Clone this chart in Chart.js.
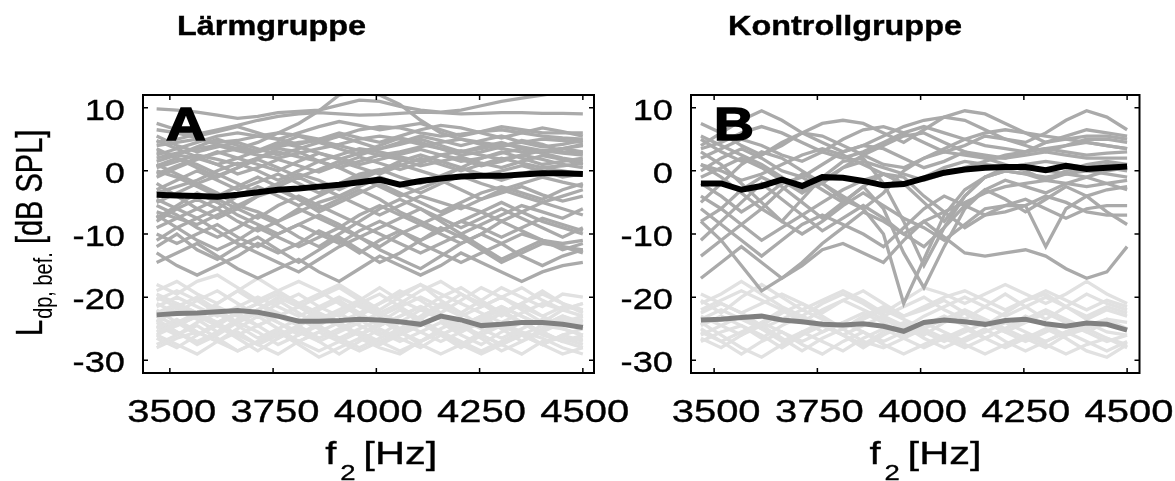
<!DOCTYPE html>
<html>
<head>
<meta charset="utf-8">
<script src="https://cdn.jsdelivr.net/npm/chart.js@4/dist/chart.umd.min.js"></script>
<style>
  body { margin: 0; background: #fff; width: 1175px; height: 481px; position: relative; overflow: hidden; }
  canvas { position: absolute; top: 0; }
  #cA { left: 0; }
  #cB { left: 600px; }
</style>
</head>
<body>
<canvas id="cA" width="640" height="481"></canvas>
<canvas id="cB" width="575" height="481"></canvas>
<script>
// f2 frequencies (Hz) shared by all curves
var freqs = [3468, 3517, 3566, 3615, 3664, 3713, 3762, 3812, 3861, 3910, 3959,
             4008, 4057, 4107, 4156, 4205, 4254, 4303, 4352, 4402, 4451, 4500];
var tickX = [3500, 3750, 4000, 4250, 4500];
var tickY = [-30, -20, -10, 0, 10];

// group means (black) and noise floor means (dark grey)
var meanA = [-3.8, -3.9, -4.0, -4.1, -3.8, -3.4, -3.0, -2.8, -2.5, -2.2, -1.8,
             -1.4, -2.2, -1.6, -1.2, -0.9, -0.8, -0.8, -0.6, -0.4, -0.4, -0.5];
var floorMeanA = [-22.8, -22.6, -22.5, -22.3, -22.1, -22.4, -23.0, -23.8, -23.8, -23.7, -23.5,
                  -23.6, -23.9, -24.3, -23.0, -23.6, -24.5, -24.3, -24.0, -24.0, -24.3, -24.8];
var meanB = [-2.0, -2.0, -3.0, -2.4, -1.4, -2.4, -1.0, -1.1, -1.6, -2.3, -2.1,
             -1.2, -0.3, 0.2, 0.5, 0.6, 0.6, 0.1, 0.8, 0.3, 0.5, 0.7];
var floorMeanB = [-23.6, -23.5, -23.2, -23.0, -23.6, -23.9, -24.3, -24.4, -24.2, -24.6, -25.4,
                  -24.0, -23.6, -23.9, -24.3, -23.7, -23.5, -24.2, -24.6, -24.1, -24.3, -25.2];

// single ears, noise group
var earsA = [
  [9.8, 9.6, 9.3, 8.8, 8.3, 8.6, 9.2, 9.4, 9.6, 10.4, 11.2, 11.0, 10.2, 9.6, 9.3, 9.6, 10.3, 11.0, 11.5, 12.0, 12.5, 13.0],
  [4.5, 5.0, 5.8, 6.5, 7.2, 8.0, 8.6, 9.0, 9.2, 9.0, 8.8, 8.9, 9.1, 9.3, 9.2, 9.0, 9.1, 9.2, 9.2, 9.1, 9.1, 9.0],
  [3.0, 2.5, 2.0, 2.8, 3.5, 4.5, 6.0, 7.5, 9.5, 12.0, 12.5, 12.0, 10.5, 8.0, 6.0, 5.0, 4.2, 3.5, 3.0, 3.2, 3.5, 3.0],
  [6.5, 6.0, 5.2, 4.5, 4.8, 5.5, 6.0, 5.6, 5.0, 5.5, 6.5, 7.0, 6.8, 6.0, 5.5, 5.8, 6.2, 6.5, 6.0, 5.5, 5.2, 5.0],
  [4.0, 4.5, 5.0, 4.2, 3.5, 3.0, 3.8, 4.5, 4.8, 4.0, 3.2, 2.5, 3.0, 3.8, 4.5, 5.0, 4.5, 4.0, 4.5, 5.0, 4.8, 4.5],
  [2.0, 2.8, 3.5, 4.0, 3.2, 2.5, 2.0, 2.8, 3.5, 4.2, 5.0, 5.5, 5.0, 4.2, 3.5, 3.0, 3.5, 4.2, 3.8, 3.2, 3.5, 4.0],
  [0.5, 1.5, 2.5, 1.8, 1.0, 2.0, 3.0, 2.2, 1.5, 2.5, 3.5, 3.0, 2.2, 1.5, 2.5, 3.2, 2.5, 1.8, 2.5, 3.2, 2.8, 2.5],
  [-1.0, 0.5, 1.8, 3.0, 2.0, 1.0, 0.0, 1.5, 2.8, 2.0, 1.0, 1.8, 2.6, 3.4, 2.5, 1.5, 2.0, 2.8, 3.5, 2.8, 2.0, 1.5],
  [3.5, 2.0, 0.5, -1.0, 0.5, 2.0, 3.5, 3.0, 1.5, 0.5, 1.5, 2.5, 1.8, 0.8, 1.5, 2.2, 1.2, 0.5, 1.5, 2.4, 1.8, 1.0],
  [1.0, -0.5, -2.0, -0.8, 0.5, 1.8, 0.5, -1.0, 0.2, 1.5, 0.5, -0.5, 0.8, 2.0, 1.0, 0.0, 1.0, 2.0, 1.2, 0.5, 0.8, 1.2],
  [-3.0, -1.5, 0.0, -1.5, -3.0, -1.8, -0.5, -2.0, -3.5, -2.0, -0.5, 0.2, -1.0, -2.0, -0.8, 0.5, -0.5, -1.5, -0.5, 0.5, 0.0, -0.5],
  [-5.0, -3.5, -2.0, -3.5, -5.5, -4.0, -2.5, -1.0, -2.5, -4.0, -2.5, -1.0, -2.2, -3.5, -2.0, -0.8, -2.0, -3.0, -2.0, -1.0, -1.8, -2.5],
  [-6.5, -7.5, -8.5, -7.0, -5.5, -6.5, -8.0, -6.5, -5.0, -4.0, -5.5, -7.0, -5.5, -4.0, -5.0, -6.0, -4.5, -3.0, -4.0, -5.0, -4.0, -3.0],
  [-8.0, -6.0, -4.5, -6.0, -8.0, -9.5, -8.0, -6.0, -7.5, -9.0, -7.0, -5.5, -7.0, -8.5, -7.0, -5.5, -6.5, -8.0, -6.5, -5.0, -6.0, -7.0],
  [-10.0, -11.5, -10.0, -8.5, -10.5, -12.0, -10.0, -8.5, -10.0, -11.5, -9.5, -8.0, -9.5, -11.0, -9.5, -8.0, -9.0, -10.5, -9.0, -7.5, -8.5, -9.5],
  [-12.0, -10.0, -12.5, -14.0, -12.0, -10.5, -12.5, -14.5, -12.5, -10.5, -12.5, -14.5, -13.0, -11.0, -9.0, -10.5, -12.5, -14.5, -13.0, -11.5, -12.0, -13.0],
  [-14.5, -13.0, -11.5, -13.5, -15.5, -17.0, -15.5, -14.0, -16.0, -17.5, -15.5, -13.5, -15.0, -16.5, -15.0, -13.0, -14.5, -16.0, -17.5, -16.0, -15.0, -14.5],
  [-9.0, -7.5, -6.0, -4.5, -6.0, -7.5, -5.5, -4.0, -5.5, -7.0, -8.5, -10.0, -11.5, -13.0, -11.5, -10.0, -8.5, -7.0, -5.5, -6.5, -7.5, -6.0],
  [-5.5, -7.0, -9.0, -10.5, -9.0, -7.0, -8.5, -10.5, -12.0, -10.0, -8.0, -6.0, -4.5, -6.0, -8.0, -10.0, -12.0, -14.0, -12.5, -11.0, -12.0, -12.5],
  [-2.0, -4.0, -6.0, -7.5, -6.0, -4.0, -3.0, -4.5, -6.5, -5.0, -3.5, -2.0, -3.5, -5.0, -6.5, -5.0, -3.5, -2.5, -3.5, -4.5, -3.0, -2.0],
  [-11.0, -9.0, -7.5, -9.5, -11.5, -13.0, -14.5, -16.0, -14.0, -12.0, -10.5, -12.5, -14.0, -15.5, -13.5, -11.5, -10.0, -11.5, -13.5, -15.0, -13.5, -12.5],
  [0.0, -1.0, -2.5, -4.0, -2.5, -1.0, -2.5, -4.5, -6.0, -4.5, -3.0, -4.5, -6.5, -8.0, -9.5, -8.0, -6.5, -5.0, -6.5, -8.0, -9.0, -10.0],
  [-7.0, -9.0, -11.0, -12.5, -11.0, -9.0, -10.5, -12.0, -10.5, -9.0, -10.5, -12.0, -10.0, -8.5, -10.0, -11.5, -10.0, -8.0, -9.5, -11.0, -11.5, -11.0],
  [5.5, 4.0, 3.0, 3.8, 4.5, 3.5, 2.5, 3.5, 4.5, 5.5, 4.5, 3.5, 4.2, 5.0, 4.0, 3.0, 3.8, 4.5, 3.5, 2.8, 3.5, 4.2],
  [2.5, 3.5, 4.5, 5.5, 6.0, 5.5, 5.0, 6.0, 7.0, 7.8, 7.2, 6.5, 7.0, 7.5, 6.5, 5.5, 6.2, 7.0, 6.5, 6.0, 6.0, 6.0],
  [-3.5, -2.5, -1.5, 0.0, 1.2, 0.0, -1.5, 0.0, 1.5, 0.5, -1.0, 0.0, 1.0, 0.0, -1.0, 0.5, 2.0, 3.0, 2.0, 1.0, 1.5, 2.0],
  [1.5, 2.5, 3.8, 5.0, 4.0, 3.0, 4.2, 5.5, 4.5, 3.5, 2.5, 3.5, 4.5, 5.5, 4.8, 4.0, 4.8, 5.5, 4.5, 3.8, 4.2, 4.8],
  [4.8, 3.5, 2.2, 1.0, 2.0, 3.2, 4.5, 3.8, 2.8, 1.8, 2.8, 4.0, 5.2, 4.5, 3.5, 2.5, 3.0, 3.8, 4.8, 4.2, 3.0, 2.8],
  [-0.5, 0.8, 2.0, 1.0, -0.5, 0.5, 1.8, 0.8, -0.2, 1.0, 2.2, 1.2, 0.2, 1.2, 2.5, 1.8, 0.8, 1.5, 2.5, 1.8, 1.0, 0.5],
  [7.5, 6.5, 5.5, 6.2, 7.0, 6.0, 5.0, 4.2, 5.0, 6.0, 5.2, 4.5, 5.5, 6.5, 7.2, 6.8, 6.0, 5.2, 6.0, 6.8, 6.2, 5.5],
  [-4.5, -6.0, -7.5, -6.0, -4.0, -2.5, -4.0, -5.5, -4.0, -2.5, -1.0, -2.5, -4.0, -2.8, -1.5, -3.0, -4.5, -3.5, -2.5, -3.8, -4.8, -4.0],
  [-13.0, -15.0, -16.5, -15.0, -13.5, -11.5, -13.0, -11.5, -9.5, -11.0, -13.0, -11.0, -9.5, -11.5, -13.0, -14.5, -13.0, -11.5, -10.0, -11.0, -12.5, -11.5],
  [-7.5, -5.5, -3.5, -5.0, -7.0, -8.5, -10.0, -8.5, -7.0, -8.5, -10.5, -9.0, -7.5, -6.0, -7.5, -9.0, -7.5, -6.0, -7.5, -9.0, -10.5, -9.0],
  [0.8, 2.0, 1.0, -0.5, -2.0, -3.5, -2.0, -0.5, -1.5, -3.0, -1.5, 0.0, 1.5, 2.5, 1.5, 0.5, -0.8, 0.0, 0.8, 0.0, -1.0, -0.5]
];
var floorsA = [
  [-19.0, -17.5, -19.5, -21.0, -19.0, -17.0, -19.0, -21.0, -19.5, -18.0, -20.0, -22.0, -20.0, -18.0, -20.5, -22.5, -20.5, -18.5, -20.0, -21.5, -19.5, -20.0],
  [-21.0, -22.5, -20.5, -19.0, -21.0, -23.0, -21.0, -19.5, -21.5, -23.0, -21.0, -19.5, -21.5, -23.5, -21.5, -19.5, -21.0, -23.0, -21.0, -19.0, -21.0, -22.0],
  [-23.0, -21.5, -20.0, -22.0, -24.0, -22.0, -20.5, -22.5, -24.5, -22.5, -21.0, -23.0, -25.0, -23.0, -21.0, -22.5, -24.5, -22.5, -21.0, -23.0, -24.5, -23.5],
  [-25.0, -23.5, -25.5, -27.0, -25.0, -23.0, -25.0, -27.0, -25.5, -24.0, -26.0, -27.5, -25.5, -24.0, -26.0, -28.0, -26.0, -24.5, -26.0, -27.5, -26.0, -25.0],
  [-26.5, -28.0, -26.0, -24.5, -26.5, -28.5, -26.5, -25.0, -27.0, -29.0, -27.0, -25.0, -26.5, -28.0, -26.0, -24.5, -26.5, -28.5, -27.0, -25.5, -27.0, -28.0],
  [-22.0, -24.0, -26.0, -24.0, -22.5, -24.5, -26.5, -24.5, -22.5, -24.0, -26.0, -24.0, -22.0, -24.0, -26.0, -24.5, -23.0, -25.0, -27.0, -25.0, -23.5, -25.0],
  [-24.0, -22.0, -23.5, -25.5, -23.5, -22.0, -24.0, -26.0, -24.0, -22.5, -24.5, -26.0, -24.0, -22.0, -23.5, -25.5, -23.5, -22.0, -24.0, -25.5, -24.0, -23.0],
  [-27.5, -26.0, -24.5, -26.5, -28.5, -27.0, -25.5, -27.5, -29.5, -28.0, -26.5, -28.0, -29.0, -27.0, -25.5, -27.5, -29.0, -27.5, -26.0, -27.5, -29.0, -28.0],
  [-20.0, -21.5, -23.0, -21.0, -19.0, -21.0, -23.0, -21.5, -20.0, -18.5, -20.5, -22.5, -21.0, -19.0, -17.5, -19.5, -21.5, -20.0, -18.5, -20.5, -22.0, -21.0],
  [-18.0, -19.5, -17.5, -16.5, -18.5, -20.5, -19.0, -17.5, -19.0, -21.0, -23.0, -21.0, -19.0, -20.5, -22.5, -20.5, -18.5, -20.0, -22.0, -24.0, -22.0, -21.0],
  [-25.5, -24.0, -22.5, -24.0, -26.0, -24.5, -23.0, -24.5, -26.5, -25.0, -23.5, -25.5, -27.0, -25.5, -24.0, -26.0, -27.5, -25.5, -24.0, -26.0, -27.0, -26.5],
  [-23.5, -25.5, -27.5, -26.0, -24.0, -25.5, -27.5, -26.0, -24.5, -26.5, -28.0, -26.5, -25.0, -23.5, -25.5, -27.5, -25.5, -24.0, -25.5, -27.5, -26.0, -27.0],
  [-22.5, -21.0, -22.5, -24.5, -22.5, -21.0, -22.5, -24.0, -22.0, -20.5, -22.5, -24.5, -23.0, -21.5, -23.0, -25.0, -23.0, -21.5, -23.0, -24.5, -23.0, -24.0],
  [-26.0, -27.5, -29.0, -27.0, -25.5, -27.5, -29.0, -27.0, -25.5, -27.0, -28.5, -27.0, -25.5, -27.5, -29.0, -27.5, -26.0, -27.5, -29.0, -27.0, -26.5, -27.5],
  [-20.5, -19.0, -20.5, -22.5, -24.0, -22.0, -20.0, -21.5, -23.5, -22.0, -20.5, -18.5, -20.5, -22.0, -20.0, -18.5, -20.5, -22.5, -21.0, -19.5, -21.0, -22.5],
  [-24.5, -26.0, -24.0, -22.5, -24.5, -26.5, -25.0, -23.5, -25.0, -26.5, -25.0, -23.5, -25.5, -27.0, -25.0, -23.5, -25.0, -26.5, -25.0, -23.5, -25.0, -26.0],
  [-21.5, -20.0, -21.5, -23.0, -21.5, -20.0, -21.5, -23.0, -21.5, -20.0, -21.5, -23.0, -21.5, -20.0, -21.5, -23.0, -21.5, -20.0, -21.5, -23.0, -21.5, -22.0],
  [-24.0, -25.5, -27.0, -25.5, -24.0, -22.5, -24.0, -25.5, -27.0, -25.5, -24.0, -22.5, -24.0, -25.5, -27.0, -25.5, -24.0, -22.5, -24.0, -25.5, -27.0, -26.0],
  [-26.0, -24.5, -23.0, -24.5, -26.0, -27.5, -26.0, -24.5, -23.0, -24.5, -26.0, -27.5, -26.0, -24.5, -23.0, -24.5, -26.0, -27.5, -26.0, -24.5, -25.0, -26.0],
  [-19.5, -21.0, -22.5, -24.0, -22.5, -21.0, -19.5, -21.0, -22.5, -24.0, -22.5, -21.0, -19.5, -18.0, -19.5, -21.0, -22.5, -24.0, -22.5, -21.0, -22.0, -23.0],
  [-28.0, -26.5, -25.5, -27.0, -28.5, -27.0, -25.5, -27.0, -28.5, -27.0, -25.5, -27.0, -28.5, -27.0, -25.5, -27.0, -28.5, -27.0, -25.5, -26.5, -28.0, -29.0],
  [-23.0, -24.5, -23.0, -21.5, -23.0, -24.5, -23.0, -21.5, -23.0, -24.5, -26.0, -24.5, -23.0, -21.5, -23.0, -24.5, -23.0, -21.5, -23.0, -24.5, -23.0, -24.5]
];

// single ears, control group
var earsB = [
  [4.0, 6.0, 8.0, 9.5, 8.0, 6.0, 4.5, 3.0, 4.0, 5.5, 7.0, 8.0, 8.5, 8.0, 6.5, 5.0, 4.5, 6.0, 8.0, 9.5, 8.5, 6.5],
  [7.5, 6.0, 4.0, 2.5, 4.0, 6.0, 7.5, 8.0, 7.5, 6.0, 4.5, 6.5, 8.5, 9.5, 9.0, 7.5, 6.0, 4.5, 5.5, 6.5, 6.0, 5.5],
  [2.0, 3.5, 5.0, 4.0, 2.5, 1.5, 3.0, 5.0, 6.5, 7.0, 6.0, 4.5, 3.0, 4.0, 5.5, 5.0, 4.0, 3.0, 4.0, 5.0, 5.0, 4.5],
  [5.0, 3.0, 1.5, 2.5, 4.5, 6.0, 5.5, 4.0, 2.5, 1.0, 0.5, 2.0, 3.5, 5.0, 6.0, 6.5, 6.0, 5.5, 5.0, 4.5, 4.0, 3.5],
  [0.0, 2.0, 3.5, 2.0, 0.0, -1.0, 1.0, 3.0, 4.0, 3.5, 2.0, 0.5, 1.5, 3.0, 2.5, 2.0, 2.5, 3.0, 2.5, 2.0, 2.0, 2.0],
  [-5.0, -2.0, 1.0, 3.0, 2.0, 0.0, -2.0, -4.5, -6.0, -3.5, 0.0, 2.0, 3.0, 2.5, 2.0, 1.0, 0.0, -1.5, 0.0, 1.0, 1.5, 1.0],
  [-2.0, -4.0, -6.5, -4.5, -2.0, -1.0, -3.0, -5.0, -2.5, -0.5, -2.0, -5.0, -8.0, -4.0, -1.0, 0.0, -0.5, -1.0, -0.5, 0.0, -0.5, -1.0],
  [3.0, 1.0, -2.0, -5.0, -8.0, -4.5, -1.0, 1.5, 2.0, -2.0, -8.0, -15.0, -9.0, -4.0, -1.0, 0.5, 1.0, 0.0, -0.5, -1.0, 0.0, 0.5],
  [1.0, -1.0, -3.5, -6.0, -3.0, -0.5, -2.0, -4.0, -6.0, -10.0, -21.0, -14.0, -7.0, -3.0, -1.0, 0.0, -0.5, -1.5, -0.5, 0.5, 1.0, 0.5],
  [-8.0, -6.0, -3.0, -1.0, -2.5, -5.0, -7.5, -5.0, -2.5, -6.0, -13.0, -18.5, -12.0, -6.0, -3.0, -1.5, -2.5, -3.5, -2.0, -1.0, -2.0, -3.0],
  [-11.0, -8.0, -5.0, -2.0, -4.5, -7.0, -9.5, -7.5, -5.5, -7.5, -10.0, -12.0, -9.0, -5.5, -3.0, -4.5, -6.5, -4.5, -2.5, -4.0, -6.5, -8.5],
  [-8.0, -11.0, -15.0, -19.0, -17.0, -14.5, -11.5, -9.0, -6.5, -8.0, -10.0, -8.0, -6.5, -5.0, -3.5, -2.5, -2.0, -1.5, -2.0, -2.5, -2.0, -1.5],
  [-17.0, -14.5, -12.0, -14.5, -17.0, -15.0, -12.5, -11.5, -13.0, -14.5, -11.0, -8.0, -10.5, -13.0, -13.5, -13.0, -12.5, -13.5, -15.5, -17.0, -16.0, -12.0],
  [-13.5, -11.0, -8.5, -6.0, -8.0, -10.0, -8.0, -5.5, -3.5, -5.5, -7.5, -9.0, -11.0, -8.5, -6.0, -5.5, -5.5, -12.0, -6.0, -4.0, -3.0, -2.5],
  [-4.0, -6.0, -8.5, -11.0, -9.0, -7.0, -5.0, -3.0, -1.5, -0.5, -1.0, -4.0, -6.5, -9.0, -7.0, -5.5, -4.5, -6.0, -7.5, -6.0, -5.5, -5.5],
  [5.5, 4.0, 2.5, 1.0, -1.0, -3.0, -2.0, 0.5, 2.5, 4.0, 5.5, 6.0, 4.5, 3.0, 2.0, 2.0, 3.0, 4.5, 5.0, 5.5, 5.5, 5.0],
  [-1.0, 0.5, 2.0, 0.5, -1.5, -3.5, -1.5, 0.5, 1.5, 0.5, -0.5, -1.5, -0.5, 0.5, 1.5, 2.5, 3.0, 3.5, 3.0, 2.5, 2.8, 3.0],
  [-6.0, -8.5, -11.0, -13.5, -11.0, -8.5, -7.0, -8.5, -10.0, -12.0, -9.0, -6.0, -4.0, -5.5, -7.0, -6.5, -5.5, -4.0, -5.0, -6.5, -7.0, -7.0],
  [3.5, 4.5, 6.0, 7.0, 6.0, 4.5, 3.0, 2.0, 3.0, 4.5, 6.0, 7.0, 6.0, 5.0, 4.0, 3.5, 3.0, 3.5, 4.0, 4.5, 4.0, 3.5],
  [1.0, 0.0, -1.5, -0.5, 1.0, 2.5, 3.5, 2.5, 1.0, -0.5, -2.0, -1.0, 0.5, 1.5, 1.0, 0.5, 1.0, 1.5, 1.0, 0.5, 0.5, 0.0]
];
var floorsB = [
  [-21.0, -19.5, -17.5, -19.5, -21.5, -23.0, -21.0, -19.5, -21.0, -23.0, -21.5, -20.0, -22.0, -23.5, -21.5, -19.5, -21.5, -23.5, -21.5, -19.5, -21.0, -22.0],
  [-24.0, -26.0, -28.0, -29.5, -27.5, -25.5, -27.0, -28.5, -26.5, -25.0, -26.5, -28.0, -26.5, -25.0, -26.5, -28.0, -26.5, -25.0, -26.5, -28.5, -29.5, -27.5],
  [-22.5, -21.0, -22.5, -24.5, -22.5, -21.0, -23.0, -25.0, -23.0, -21.5, -23.0, -22.0, -20.5, -22.5, -24.5, -22.5, -20.5, -19.5, -21.5, -23.5, -22.0, -23.0],
  [-26.0, -24.5, -23.0, -25.0, -27.0, -25.5, -24.0, -26.0, -28.0, -26.0, -24.5, -26.5, -28.0, -26.5, -25.0, -27.0, -28.5, -27.0, -25.5, -27.0, -28.5, -27.0],
  [-23.0, -24.5, -26.0, -24.0, -22.0, -23.5, -25.5, -24.0, -22.5, -24.0, -26.0, -24.5, -23.0, -24.5, -26.5, -25.0, -23.0, -24.5, -26.0, -24.5, -23.5, -25.0],
  [-19.5, -21.0, -22.5, -21.0, -19.5, -21.0, -22.5, -20.5, -19.0, -21.0, -23.0, -21.5, -20.0, -19.0, -20.5, -22.0, -20.5, -19.0, -20.5, -22.0, -20.5, -21.5],
  [-25.0, -27.0, -29.0, -27.0, -25.5, -27.5, -29.0, -27.0, -25.5, -27.5, -29.0, -27.5, -26.0, -27.5, -29.0, -27.5, -26.0, -27.5, -29.0, -27.5, -26.5, -28.0],
  [-22.0, -20.5, -19.0, -20.5, -22.0, -24.0, -22.0, -20.5, -22.0, -23.5, -25.0, -23.0, -21.5, -20.0, -21.5, -23.0, -21.5, -20.0, -21.5, -23.0, -21.5, -22.5],
  [-27.0, -25.5, -24.5, -26.0, -28.0, -26.0, -24.5, -26.0, -27.5, -25.5, -24.0, -25.5, -27.0, -25.5, -24.0, -25.5, -27.0, -25.5, -24.0, -25.5, -27.0, -26.0],
  [-24.5, -23.0, -24.5, -26.5, -24.5, -23.0, -24.5, -26.0, -24.5, -23.0, -24.5, -26.0, -24.0, -22.5, -24.0, -25.5, -24.0, -22.5, -24.0, -25.5, -24.0, -25.0],
  [-20.5, -22.5, -20.0, -18.0, -20.0, -22.0, -20.5, -19.0, -20.5, -22.5, -20.5, -18.5, -19.5, -21.0, -19.5, -18.0, -19.5, -21.0, -19.5, -17.5, -19.5, -21.0],
  [-26.5, -28.0, -26.0, -24.5, -26.5, -28.5, -26.5, -25.0, -27.0, -28.0, -26.5, -25.0, -26.5, -28.0, -26.5, -25.0, -26.5, -28.0, -26.0, -25.0, -26.5, -27.5],
  [-23.5, -22.0, -23.5, -25.0, -23.5, -22.0, -23.5, -25.0, -23.5, -22.0, -23.5, -25.0, -23.5, -22.0, -23.5, -25.0, -23.5, -22.0, -23.5, -25.0, -23.5, -24.0],
  [-25.5, -27.0, -25.5, -24.0, -25.5, -27.0, -25.5, -24.0, -25.5, -27.0, -25.5, -24.0, -25.5, -27.0, -25.5, -24.0, -25.5, -27.0, -25.5, -24.0, -25.5, -26.0]
];

var FONT = '"Liberation Sans", Arial, sans-serif';
var STRETCH = 1.25;

// text widened like the exported figure, with a thin outline for weight
function txt(ctx, s, x, y, font, align, sx, heavy) {
  ctx.save();
  ctx.font = font;
  ctx.translate(x, y);
  ctx.scale(sx || STRETCH, 1);
  ctx.textAlign = align || 'left';
  ctx.textBaseline = 'alphabetic';
  ctx.fillText(s, 0, 0);
  ctx.lineWidth = heavy || 0.35;
  ctx.strokeText(s, 0, 0);
  ctx.restore();
}

function curve(vals, color, width) {
  return {
    data: freqs.map(function (f, i) { return { x: f, y: vals[i] }; }),
    borderColor: color,
    borderWidth: width,
    pointRadius: 0,
    tension: 0,
    fill: false
  };
}

// first dataset is painted last, so the means go first
function datasets(mean, floorMean, ears, floors) {
  return [curve(mean, '#000000', 6), curve(floorMean, '#808080', 5)]
    .concat(ears.map(function (e) { return curve(e, '#aaaaaa', 3.3); }))
    .concat(floors.map(function (e) { return curve(e, '#e1e1e1', 3.3); }));
}

// matlab style box, inward ticks, labels
var boxPlugin = {
  id: 'box',
  afterDatasetsDraw: function (chart, args, o) {
    var ctx = chart.ctx, a = chart.chartArea;
    var sx = chart.scales.x, sy = chart.scales.y;
    ctx.save();
    ctx.fillStyle = '#000';
    ctx.strokeStyle = '#000';

    ctx.lineWidth = 1.5;
    ctx.beginPath();
    sx.ticks.forEach(function (t) {
      var p = sx.getPixelForValue(t.value);
      ctx.moveTo(p, a.bottom); ctx.lineTo(p, a.bottom - 5);
      ctx.moveTo(p, a.top); ctx.lineTo(p, a.top + 5);
    });
    sy.ticks.forEach(function (t) {
      var p = sy.getPixelForValue(t.value);
      ctx.moveTo(a.left, p); ctx.lineTo(a.left + 5, p);
      ctx.moveTo(a.right, p); ctx.lineTo(a.right - 5, p);
    });
    ctx.stroke();
    ctx.lineWidth = 2;
    ctx.strokeRect(a.left, a.top, a.right - a.left, a.bottom - a.top);

    sy.ticks.forEach(function (t) {
      txt(ctx, String(t.value), a.left - 18, sy.getPixelForValue(t.value) + 12, '29px ' + FONT, 'right');
    });
    sx.ticks.forEach(function (t) {
      txt(ctx, String(t.value), sx.getPixelForValue(t.value) + 2, a.bottom + 49, '32px ' + FONT, 'center');
    });

    // panel letter
    txt(ctx, o.letter, a.left + 23, a.top + 45, 'bold 46px ' + FONT, 'left', 1.2, 1.5);
    // group title
    txt(ctx, o.title, o.titleX, 35, 'bold 27px ' + FONT, 'left', 1.2, 0.4);

    // x title: f2 [Hz]
    var x0 = sx.getPixelForValue(4000) - 51;
    txt(ctx, 'f', x0, a.bottom + 91, '32px ' + FONT, 'left');
    txt(ctx, '2', x0 + 15, a.bottom + 107, '22px ' + FONT, 'left');
    txt(ctx, '[Hz]', x0 + 38, a.bottom + 91, '32px ' + FONT, 'left', 1.3);

    // y title: L_dp,bef. [dB SPL]
    if (o.yTitle) {
      ctx.translate(42, 336);
      ctx.rotate(-Math.PI / 2);
      ctx.scale(1, STRETCH);
      ctx.textBaseline = 'alphabetic';
      ctx.lineWidth = 0.3;
      ctx.font = '29px ' + FONT;
      ctx.fillText('L', 0, 0);
      ctx.strokeText('L', 0, 0);
      var w = ctx.measureText('L').width + 1;
      ctx.font = '20px ' + FONT;
      ctx.fillText('dp, bef.', w, 8);
      w += ctx.measureText('dp, bef.').width;
      ctx.font = '29px ' + FONT;
      ctx.fillText(' [dB SPL]', w, 0);
      ctx.strokeText(' [dB SPL]', w, 0);
    }
    ctx.restore();
  }
};

function makeChart(id, sets, xmin, xmax, yAxisW, padRight, box) {
  return new Chart(document.getElementById(id).getContext('2d'), {
    type: 'line',
    data: { datasets: sets },
    options: {
      responsive: false,
      animation: false,
      devicePixelRatio: 1,
      layout: { padding: { left: 0, right: padRight, top: 95, bottom: 0 } },
      plugins: { legend: { display: false }, tooltip: { enabled: false }, box: box },
      scales: {
        x: {
          type: 'linear', min: xmin, max: xmax,
          grid: { display: false }, border: { display: false }, ticks: { display: false },
          afterBuildTicks: function (s) { s.ticks = tickX.map(function (v) { return { value: v }; }); },
          afterFit: function (s) { s.height = 108; }
        },
        y: {
          min: -32, max: 12,
          grid: { display: false }, border: { display: false }, ticks: { display: false },
          afterBuildTicks: function (s) { s.ticks = tickY.map(function (v) { return { value: v }; }); },
          afterFit: function (s) { s.width = yAxisW; }
        }
      }
    },
    plugins: [boxPlugin]
  });
}

makeChart('cA', datasets(meanA, floorMeanA, earsA, floorsA), 3435, 4527, 143, 46,
  { letter: 'A', title: 'Lärmgruppe', titleX: 177, yTitle: true });
makeChart('cB', datasets(meanB, floorMeanB, earsB, floorsB), 3444, 4530, 91, 35.5,
  { letter: 'B', title: 'Kontrollgruppe', titleX: 128, yTitle: false });
</script>
</body>
</html>
